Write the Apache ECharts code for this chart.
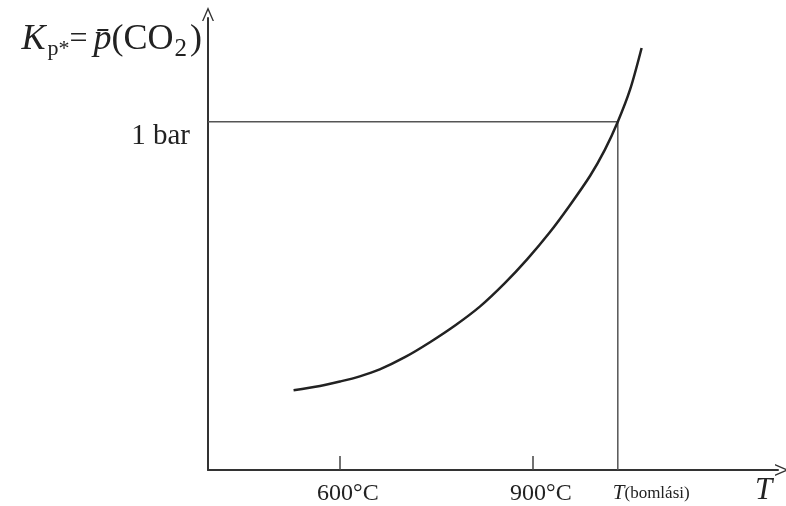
<!DOCTYPE html>
<html>
<head>
<meta charset="utf-8">
<script src="https://cdn.jsdelivr.net/npm/echarts@6/dist/echarts.min.js"></script>
<style>html,body{margin:0;padding:0;background:#fff}#c{width:786px;height:506px}</style>
</head>
<body>
<div id="c"></div>
<script>
// Temperature (°C) and equilibrium CO2 pressure (bar)
var curveT = [528, 569, 600, 631, 662, 701, 740, 779, 818, 856, 891, 926, 957, 989, 1012, 1032, 1051, 1069];
var curveP = [0.229, 0.241, 0.254, 0.269, 0.289, 0.324, 0.367, 0.415, 0.470, 0.536, 0.605, 0.682, 0.759, 0.845, 0.920, 1.0, 1.092, 1.212];
var xTicks = [600, 900];
var xTickLabels = ['600°C', '900°C'];
var tDecomp = 1032;
var pRef = 1;
var yTickLabel = '1 bar';
var xMin = 395, xMax = 1281, yMin = 0, yMax = 1.298;

var curve = curveT.map(function (t, i) { return [t, curveP[i]]; });
var guide = [[xMin, pRef], [tDecomp, pRef], [tDecomp, 0]];
var serif = '"Liberation Serif", "DejaVu Serif", serif';
var chev = 'path://M0,14 L6,0 L12,14 L10.6,14 L6,3.5 L1.4,14 Z';

var chart = echarts.init(document.getElementById('c'));
chart.setOption({
  animation: false,
  backgroundColor: '#fff',
  grid: { left: 208, right: 8, top: 18, bottom: 35 },
  xAxis: {
    type: 'value', min: xMin, max: xMax,
    splitLine: { show: false },
    axisLine: { lineStyle: { color: '#333', width: 2 }, symbol: ['none', chev], symbolSize: [12, 14], symbolOffset: [0, 4] },
    axisTick: { show: true, inside: true, length: 14, customValues: xTicks, lineStyle: { color: '#444', width: 1.5 } },
    axisLabel: {
      customValues: xTicks, margin: 12, fontFamily: serif, fontSize: 24, color: '#222',
      padding: [0, 0, 0, 16],
      formatter: function (v) { var i = xTicks.indexOf(v); return i >= 0 ? xTickLabels[i] : ''; }
    },
    name: 'T', nameLocation: 'end', nameGap: -23,
    nameTextStyle: { fontFamily: serif, fontStyle: 'italic', fontSize: 31, color: '#222', align: 'left', verticalAlign: 'top', padding: [5, 0, 0, 0] }
  },
  yAxis: {
    type: 'value', min: yMin, max: yMax,
    splitLine: { show: false },
    axisLine: { lineStyle: { color: '#333', width: 2 }, symbol: ['none', chev], symbolSize: [12, 14], symbolOffset: [0, 4] },
    axisTick: { show: false },
    axisLabel: {
      customValues: [pRef], margin: 18, fontFamily: serif, fontSize: 29, color: '#222',
      verticalAlign: 'top', lineHeight: 29,
      formatter: function () { return yTickLabel; }
    },
    name: '{K|K}{sub|p*}{eq|=}{p|p̄}{n|(CO}{sub2|2}{n|)}',
    nameLocation: 'end', nameGap: -22,
    nameTextStyle: {
      align: 'right', verticalAlign: 'middle', padding: [0, 6, 0, 0],
      rich: {
        K: { fontFamily: serif, fontStyle: 'italic', fontSize: 36, color: '#222' },
        sub: { fontFamily: serif, fontSize: 22, color: '#222', padding: [18, 0, 0, 2] },
        eq: { fontFamily: serif, fontSize: 32, color: '#222', padding: [0, 6, 0, 0] },
        p: { fontFamily: serif, fontStyle: 'italic', fontSize: 36, color: '#222' },
        n: { fontFamily: serif, fontSize: 36, color: '#222' },
        sub2: { fontFamily: serif, fontSize: 25, color: '#222', padding: [18, 3, 0, 1] }
      }
    }
  },
  series: [
    {
      type: 'line', data: guide, showSymbol: false, silent: true,
      lineStyle: { color: '#555', width: 1.5 },
      label: { show: false },
      markPoint: {
        symbol: 'circle', symbolSize: 0,
        data: [{ coord: [tDecomp, 0], value: 0 }],
        label: {
          show: true, position: [-5, 13], align: 'left', verticalAlign: 'top',
          formatter: '{T|T}{b|(bomlási)}',
          rich: {
            T: { fontFamily: serif, fontStyle: 'italic', fontSize: 21, color: '#222' },
            b: { fontFamily: serif, fontSize: 17, color: '#222' }
          }
        }
      }
    },
    {
      type: 'line', data: curve, smooth: 0.3, showSymbol: false, silent: true,
      lineStyle: { color: '#222', width: 2.5 }
    }
  ]
});
</script>
</body>
</html>
